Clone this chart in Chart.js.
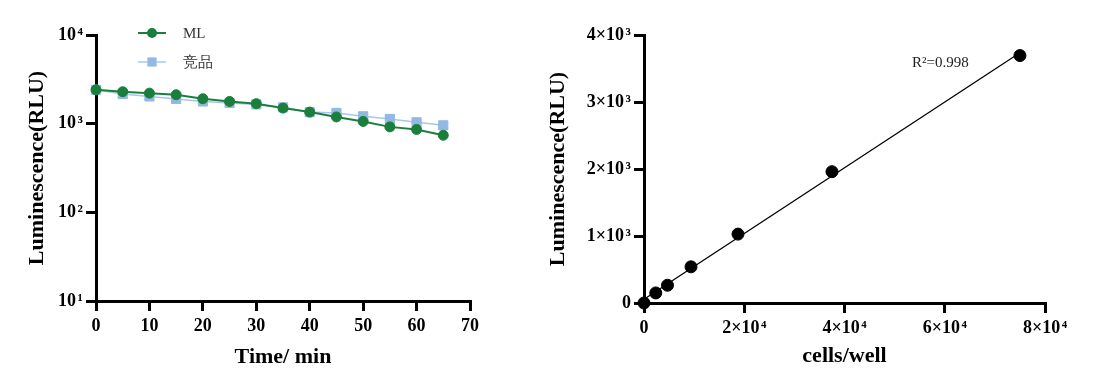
<!DOCTYPE html>
<html>
<head>
<meta charset="utf-8">
<script src="https://cdn.jsdelivr.net/npm/chart.js@4.4.1/dist/chart.umd.min.js"></script>
<style>
  body { margin: 0; background: #fff; }
  #wrap { position: relative; width: 1106px; height: 390px; }
  .box { position: absolute; top: 0; height: 390px; }
</style>
</head>
<body>
<div id="wrap">
  <div class="box" style="left:0; width:520px;"><canvas id="timeChart"></canvas></div>
  <div class="box" style="left:520px; width:586px;"><canvas id="cellChart"></canvas></div>
</div>
<script>
// left panel: signal over time
var times = [0, 5, 10, 15, 20, 25, 30, 35, 40, 45, 50, 55, 60, 65];
var mlValues = [2410, 2290, 2210, 2120, 1910, 1780, 1680, 1500, 1350, 1190, 1060, 920, 860, 740];
var rivalValues = [2410, 2160, 2030, 1900, 1780, 1710, 1650, 1525, 1350, 1320, 1210, 1130, 1035, 957];
var seriesNames = ["ML", "竞品"];
var logTicks = [10, 100, 1000, 10000];
var timeTicks = [0, 10, 20, 30, 40, 50, 60, 70];

// right panel: standard curve
var cellsPerWell = [0, 2344, 4688, 9375, 18750, 37500, 75000];
var lumValues = [0, 150, 265, 540, 1028, 1960, 3693];
var fitX = [0, 75000];
var fitY = [55, 3735];
var cellTicks = [0, 20000, 40000, 60000, 80000];
var lumTicks = [0, 1000, 2000, 3000, 4000];
var r2Label = "R²=0.998";

var serif = "'Liberation Serif', 'Times New Roman', serif";
var green = "#1a7f3c";
var blueMark = "#93b8e3";
var blueLine = "#a8c6ea";

var sup = {"0": "⁰", "1": "¹", "2": "²", "3": "³", "4": "⁴", "5": "⁵", "6": "⁶", "7": "⁷", "8": "⁸", "9": "⁹"};
function supText(e) {
    return "\u200A" + String(e).split("").map(function (c) { return sup[c]; }).join("");
}
function sciLabel(v) {
    if (v === 0) return "0";
    var e = Math.floor(Math.log10(v) + 1e-9);
    var m = Math.round(v / Math.pow(10, e));
    return m + "×10" + supText(e);
}

function toPoints(xs, ys) {
    return xs.map(function (x, i) { return {x: x, y: ys[i]}; });
}

function axisStyle(tickLen) {
    return {
        grid: {drawOnChartArea: false, drawTicks: true, tickLength: tickLen, color: "#000", lineWidth: 3},
        border: {color: "#000", width: 3}
    };
}

var legendPlugin = {
    id: "innerLegend",
    afterDraw: function (chart) {
        var ctx = chart.ctx;
        var rows = [33, 62];
        ctx.save();
        chart.data.datasets.forEach(function (ds, i) {
            var y = rows[i];
            ctx.strokeStyle = ds.borderColor;
            ctx.lineWidth = ds.borderWidth;
            ctx.beginPath();
            ctx.moveTo(138, y);
            ctx.lineTo(166, y);
            ctx.stroke();
            ctx.fillStyle = ds.pointBackgroundColor;
            ctx.beginPath();
            if (ds.pointStyle === "rect") {
                var h = ds.pointRadius * Math.SQRT1_2;
                ctx.rect(152 - h, y - h, 2 * h, 2 * h);
            } else {
                ctx.arc(152, y, ds.pointRadius, 0, Math.PI * 2);
            }
            ctx.fill();
            ctx.fillStyle = "#333";
            ctx.font = "15px " + serif;
            ctx.textAlign = "left";
            ctx.textBaseline = "middle";
            ctx.fillText(ds.label, 183, y + 1);
        });
        ctx.restore();
    }
};

var r2Plugin = {
    id: "r2Text",
    afterDraw: function (chart) {
        var ctx = chart.ctx;
        ctx.save();
        ctx.fillStyle = "#222";
        ctx.font = "15px " + serif;
        ctx.textAlign = "left";
        ctx.textBaseline = "alphabetic";
        ctx.fillText(r2Label, 392, 67);
        ctx.restore();
    }
};

var tickFont = {family: serif, size: 18, weight: "bold"};
var titleFont = {family: serif, size: 22, weight: "bold"};

var leftY = Object.assign(axisStyle(10), {
    type: "logarithmic",
    min: 10, max: 10000,
    afterBuildTicks: function (s) { s.ticks = logTicks.map(function (v) { return {value: v}; }); },
    afterFit: function (s) { s.width = 96; },
    ticks: {
        color: "#000", padding: 3, font: tickFont,
        callback: function (v) { return "10" + supText(Math.round(Math.log10(v))); }
    },
    title: {display: true, text: "Luminescence(RLU)", color: "#000", padding: {top: 24}, font: titleFont}
});

var leftX = Object.assign(axisStyle(10), {
    type: "linear",
    min: 0, max: 70,
    afterBuildTicks: function (s) { s.ticks = timeTicks.map(function (v) { return {value: v}; }); },
    afterFit: function (s) { s.height = 89; },
    ticks: {color: "#000", padding: 5, maxRotation: 0, font: tickFont},
    title: {display: true, text: "Time/ min", color: "#000", padding: {bottom: 19}, font: titleFont}
});

new Chart(document.getElementById("timeChart"), {
    type: "line",
    data: {
        datasets: [{
            label: seriesNames[0],
            data: toPoints(times, mlValues),
            borderColor: green, borderWidth: 2,
            pointStyle: "circle", pointRadius: 5,
            pointBackgroundColor: green, pointBorderColor: green, pointBorderWidth: 1,
            clip: false
        }, {
            label: seriesNames[1],
            data: toPoints(times, rivalValues),
            borderColor: blueLine, borderWidth: 1.5,
            pointStyle: "rect", pointRadius: 6.5,
            pointBackgroundColor: blueMark, pointBorderColor: blueMark, pointBorderWidth: 1,
            clip: false
        }]
    },
    options: {
        responsive: true, maintainAspectRatio: false, animation: false,
        layout: {padding: {left: 0, right: 50, top: 35, bottom: 0}},
        plugins: {legend: {display: false}, tooltip: {enabled: false}},
        scales: {x: leftX, y: leftY}
    },
    plugins: [legendPlugin]
});

var rightY = Object.assign(axisStyle(10), {
    type: "linear",
    min: 0, max: 4000,
    afterBuildTicks: function (s) { s.ticks = lumTicks.map(function (v) { return {value: v}; }); },
    afterFit: function (s) { s.width = 124; },
    ticks: {color: "#000", padding: 3, font: tickFont, callback: sciLabel},
    title: {display: true, text: "Luminescence(RLU)", color: "#000", padding: {top: 25}, font: titleFont}
});

var rightX = Object.assign(axisStyle(10), {
    type: "linear",
    min: 0, max: 80000,
    afterBuildTicks: function (s) { s.ticks = cellTicks.map(function (v) { return {value: v}; }); },
    afterFit: function (s) { s.height = 87; },
    ticks: {color: "#000", padding: 5, maxRotation: 0, font: tickFont, callback: sciLabel},
    title: {display: true, text: "cells/well", color: "#000", padding: {bottom: 20}, font: titleFont}
});

new Chart(document.getElementById("cellChart"), {
    type: "scatter",
    data: {
        datasets: [{
            label: "points",
            data: toPoints(cellsPerWell, lumValues),
            pointStyle: "circle", pointRadius: 6,
            pointBackgroundColor: "#000", pointBorderColor: "#000",
            showLine: false, clip: false
        }, {
            label: "fit",
            type: "line",
            data: toPoints(fitX, fitY),
            borderColor: "#000", borderWidth: 1.3,
            pointRadius: 0, clip: false
        }]
    },
    options: {
        responsive: true, maintainAspectRatio: false, animation: false,
        layout: {padding: {left: 0, right: 61, top: 35, bottom: 0}},
        plugins: {legend: {display: false}, tooltip: {enabled: false}},
        scales: {x: rightX, y: rightY}
    },
    plugins: [r2Plugin]
});
</script>
</body>
</html>
